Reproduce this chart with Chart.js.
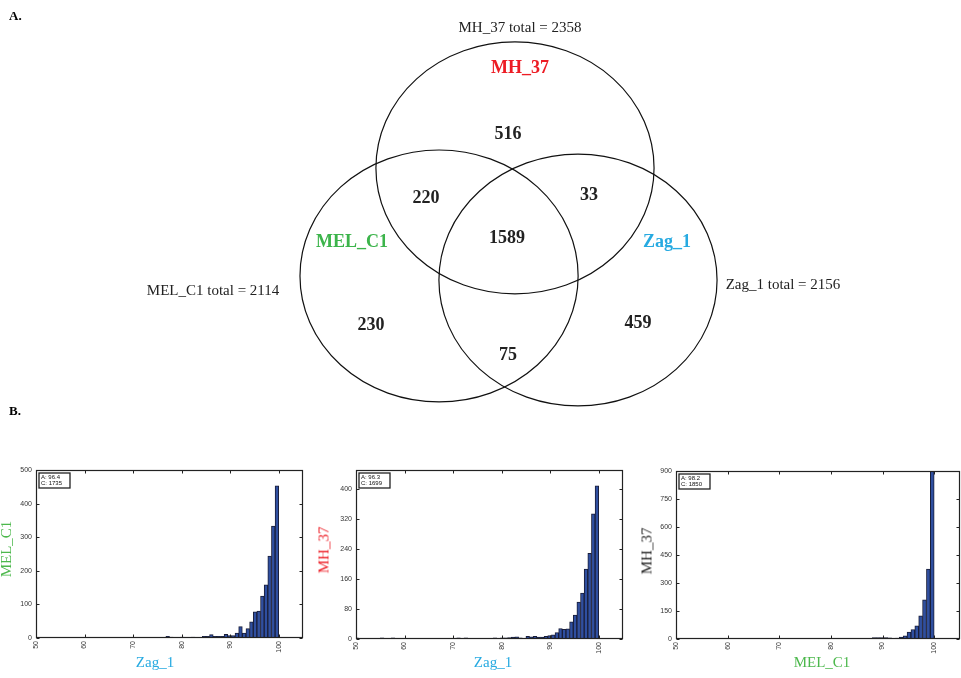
<!DOCTYPE html>
<html>
<head>
<meta charset="utf-8">
<script src="https://cdn.jsdelivr.net/npm/chart.js@4.4.1/dist/chart.umd.min.js"></script>
<style>
  body { margin: 0; background: #fff; width: 961px; height: 678px; position: relative; overflow: hidden; }
  canvas { position: absolute; }
  .lbl { position: absolute; font-family: "Liberation Serif", "Times New Roman", serif; white-space: nowrap; line-height: 1; font-size: 15px; }
  .ctr { transform: translate(-50%, -50%); }
  .rot { transform: translate(-50%, -50%) rotate(-90deg); }
  .panel { font-weight: bold; font-size: 13px; }
</style>
</head>
<body>
<canvas id="venn" width="961" height="410" style="left:0;top:0"></canvas>
<canvas id="hist1" width="320" height="218" style="left:0;top:460px"></canvas>
<canvas id="hist2" width="320" height="218" style="left:320px;top:460px"></canvas>
<canvas id="hist3" width="321" height="218" style="left:640px;top:460px"></canvas>

<div class="lbl panel" style="left:9px;top:9px">A.</div>
<div class="lbl panel" style="left:9px;top:404px">B.</div>

<div class="lbl rot" style="left:6px;top:549px;color:#4cb84c">MEL_C1</div>
<div class="lbl ctr" style="left:155px;top:662px;color:#27aae1">Zag_1</div>
<div class="lbl rot" style="left:324px;top:550px;color:#ed1c24">MH_37</div>
<div class="lbl ctr" style="left:493px;top:662px;color:#27aae1">Zag_1</div>
<div class="lbl rot" style="left:647px;top:551px;color:#222">MH_37</div>
<div class="lbl ctr" style="left:822px;top:662px;color:#4cb84c">MEL_C1</div>

<script>
// ==================== VENN ====================
const setNames   = ['MH_37', 'MEL_C1', 'Zag_1'];
const setTotals  = [2358, 2114, 2156];
const setColors  = ['#ed1c24', '#3cb44b', '#27aae1'];

// circle centres / radius in venn units
const circleX = [0.043, -0.503, 0.496];
const circleY = [0.572, -0.286, -0.318];
const circleR = [1, 1, 1];

// set name labels and "total" labels
const nameX  = [0.079, -1.129, 1.136];
const nameY  = [1.366, -0.016, -0.016];
const totalX = [0.079, -2.128, 1.970];
const totalY = [1.683, -0.405, -0.357];

// region counts: MH only, MH∩MEL, MH∩Zag, all, MEL only, MEL∩Zag, Zag only
const regionCounts = [516, 220, 33, 1589, 230, 75, 459];
const regionX = [-0.007, -0.597, 0.575, -0.014, -0.992, -0.007, 0.928];
const regionY = [0.838, 0.333, 0.357, 0.016, -0.675, -0.913, -0.659];

// ==================== HISTOGRAMS ====================
// 67 bins of 0.75 starting at 49.75 (last bin ends at 100)
const BIN_START = 49.75;
const BIN_WIDTH = 0.75;

const melVsZag = [
  1, 1, 1, 1, 1, 1, 0, 1, 1, 1,
  1, 2, 1, 1, 1, 1, 1, 1, 1, 1,
  1, 1, 2, 1, 2, 1, 1, 2, 2, 2,
  1, 2, 2, 1, 2, 1, 5, 3, 1, 1,
  3, 2, 2, 3, 2, 2, 5, 5, 10, 5, 5, 5,
  11, 7, 7, 15, 34, 15, 28, 48, 78, 80, 125, 158, 244, 333, 453
];
const mhVsZag = [
  3, 2, 1, 1, 2, 1, 2, 3, 2, 1,
  3, 1, 1, 2, 1, 1, 1, 2, 1, 1,
  1, 2, 1, 1, 1, 1, 1, 2, 3, 1,
  3, 1, 2, 1, 2, 2, 1, 2, 3, 1,
  3, 3, 4, 5, 6, 3, 1, 7, 6, 7, 5,
  5, 7, 9, 11, 17, 28, 26, 27, 46, 64, 98, 122, 186, 228, 333, 408
];
const mhVsMel = [
  2, 1, 1, 1, 2, 1, 1, 2, 1, 1,
  3, 1, 1, 2, 1, 1, 2, 1, 1, 1,
  2, 1, 1, 1, 1, 2, 1, 1, 1, 1,
  2, 1, 1, 1, 2, 1, 1, 1, 2, 1,
  1, 2, 2, 1, 2, 2, 3, 2, 3, 3,
  4, 7, 8, 7, 7, 6, 3, 5,
  10, 17, 37, 51, 70, 124, 210, 375, 898
];

const statA = ['A: 96.4', 'A: 96.3', 'A: 98.2'];
const statC = ['C: 1735', 'C: 1699', 'C: 1850'];

const yMaxes = [500, 450, 900];
const ySteps = [100, 80, 150];
const xTickStep = 10;

Chart.defaults.font.family = '"Liberation Sans", Arial, sans-serif';
Chart.defaults.animation = false;

const vennPlugin = {
  id: 'vennDraw',
  afterDatasetsDraw(chart) {
    const ctx = chart.ctx;
    const xs = chart.scales.x, ys = chart.scales.y;
    ctx.save();
    ctx.lineWidth = 1.2;
    ctx.strokeStyle = '#111';
    circleX.forEach((cx, i) => {
      const px = xs.getPixelForValue(cx);
      const py = ys.getPixelForValue(circleY[i]);
      const rx = xs.getPixelForValue(cx + circleR[i]) - px;
      const ry = py - ys.getPixelForValue(circleY[i] + circleR[i]);
      ctx.beginPath();
      ctx.ellipse(px, py, rx, ry, 0, 0, Math.PI * 2);
      ctx.stroke();
    });

    ctx.textAlign = 'center';
    ctx.textBaseline = 'middle';
    ctx.fillStyle = '#222';
    ctx.font = 'bold 18px "Liberation Serif", serif';
    regionCounts.forEach((n, i) => {
      ctx.fillText(String(n), xs.getPixelForValue(regionX[i]), ys.getPixelForValue(regionY[i]));
    });

    setNames.forEach((name, i) => {
      ctx.fillStyle = setColors[i];
      ctx.font = 'bold 18px "Liberation Serif", serif';
      ctx.fillText(name, xs.getPixelForValue(nameX[i]), ys.getPixelForValue(nameY[i]));
      ctx.fillStyle = '#222';
      ctx.font = '15px "Liberation Serif", serif';
      ctx.fillText(name + ' total = ' + setTotals[i], xs.getPixelForValue(totalX[i]), ys.getPixelForValue(totalY[i]));
    });
    ctx.restore();
  }
};

new Chart(document.getElementById('venn'), {
  type: 'scatter',
  data: {
    datasets: [{
      data: circleX.map((x, i) => ({ x, y: circleY[i] })),
      pointRadius: 0
    }]
  },
  options: {
    responsive: false,
    devicePixelRatio: 1,
    layout: { padding: 0 },
    plugins: { legend: { display: false }, tooltip: { enabled: false } },
    scales: {
      x: { display: false, min: -3.660, max: 3.250 },
      y: { display: false, min: -1.350, max: 1.905 }
    }
  },
  plugins: [vennPlugin]
});

// frame + inward tick marks, matlab style
const framePlugin = {
  id: 'frame',
  afterDraw(chart) {
    const { ctx, chartArea: a } = chart;
    const xs = chart.scales.x, ys = chart.scales.y;
    const L = Math.round(a.left) + 0.5, R = Math.round(a.right) - 0.5;
    const T = Math.round(a.top) + 0.5, B = Math.round(a.bottom) - 0.5;
    ctx.save();
    ctx.strokeStyle = '#222';
    ctx.lineWidth = 1;
    ctx.beginPath();
    xs.ticks.forEach((t, i) => {
      const x = Math.round(xs.getPixelForTick(i)) + 0.5;
      ctx.moveTo(x, T); ctx.lineTo(x, T + 3);
      ctx.moveTo(x, B); ctx.lineTo(x, B - 3);
    });
    ys.ticks.forEach((t, i) => {
      const y = Math.round(ys.getPixelForTick(i)) + 0.5;
      ctx.moveTo(L, y); ctx.lineTo(L + 3, y);
      ctx.moveTo(R, y); ctx.lineTo(R - 3, y);
    });
    ctx.stroke();
    ctx.lineWidth = 1.2;
    ctx.strokeRect(L, T, R - L, B - T);

    const st = chart.options.plugins.statBox;
    if (st) {
      ctx.lineWidth = 1.3;
      ctx.strokeRect(L + 2.5, T + 2.5, 31, 15);
      ctx.fillStyle = '#111';
      ctx.font = '6px "Liberation Sans", Arial, sans-serif';
      ctx.textBaseline = 'middle';
      ctx.textAlign = 'left';
      st.lines.forEach((s, i) => ctx.fillText(s, L + 4.5, T + 7 + i * 6));
    }
    ctx.restore();
  }
};

function makeHist(id, counts, idx, pad, xHeight) {
  const points = counts.map((c, k) => ({ x: BIN_START + BIN_WIDTH * (k + 0.5), y: c }));
  return new Chart(document.getElementById(id), {
    type: 'bar',
    data: {
      datasets: [{
        data: points,
        backgroundColor: '#2f4fa0',
        borderColor: '#1a1e38',
        borderWidth: 1,
        barPercentage: 1,
        categoryPercentage: 1
      }]
    },
    options: {
      responsive: false,
      devicePixelRatio: 1,
      layout: { padding: pad },
      plugins: {
        legend: { display: false },
        tooltip: { enabled: false },
        statBox: { lines: [statA[idx], statC[idx]] }
      },
      scales: {
        x: {
          type: 'linear',
          offset: false,
          min: 50,
          max: 105,
          grid: { display: false, drawTicks: false },
          border: { display: false },
          ticks: {
            stepSize: xTickStep,
            minRotation: 90,
            maxRotation: 90,
            autoSkip: false,
            padding: 3,
            color: '#333',
            font: { size: 7 }
          },
          afterBuildTicks: s => { s.ticks = s.ticks.filter(t => t.value % xTickStep === 0); },
          afterFit: s => { s.height = xHeight; }
        },
        y: {
          min: 0,
          max: yMaxes[idx],
          grid: { display: false, drawTicks: false },
          border: { display: false },
          ticks: {
            stepSize: ySteps[idx],
            padding: 4,
            color: '#333',
            font: { size: 7 }
          },
          afterBuildTicks: s => { s.ticks = s.ticks.filter(t => t.value % ySteps[idx] === 0); },
          afterFit: s => { s.width = 36; }
        }
      }
    },
    plugins: [framePlugin]
  });
}

makeHist('hist1', melVsZag, 0, { top: 10, right: 17, bottom: 0, left: 0 }, 40);
makeHist('hist2', mhVsZag, 1, { top: 10, right: 17, bottom: 0, left: 0 }, 39);
makeHist('hist3', mhVsMel, 2, { top: 11, right: 1, bottom: 0, left: 0 }, 39);
</script>
</body>
</html>
